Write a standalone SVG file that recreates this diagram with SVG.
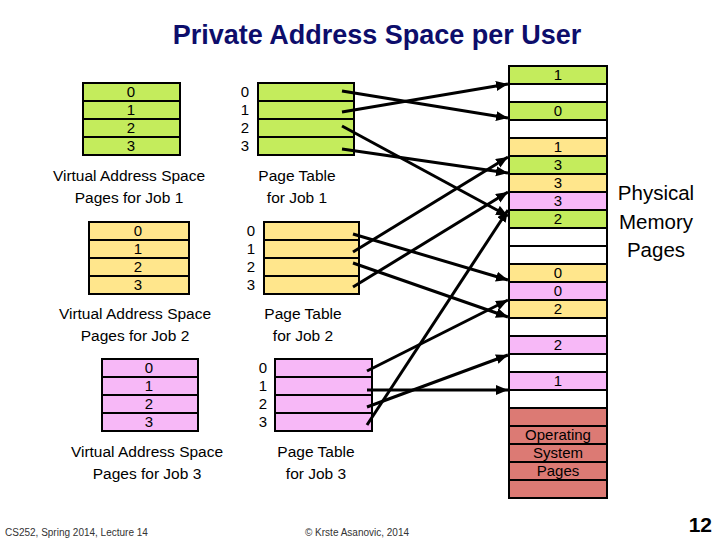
<svg xmlns="http://www.w3.org/2000/svg" width="720" height="540" viewBox="0 0 720 540">
<style>
text{font-family:"Liberation Sans",Arial,sans-serif;fill:#000}
.g{fill:#C4EC5C;stroke:#000;stroke-width:2}
.y{fill:#FFE68C;stroke:#000;stroke-width:2}
.p{fill:#F7B8F7;stroke:#000;stroke-width:2}
.r{fill:#DC7A74;stroke:#000;stroke-width:2}
.w{fill:#fff;stroke:#000;stroke-width:2}
.d{font-size:15px;text-anchor:middle}
.c{font-size:15.5px;text-anchor:middle}
.con line{stroke:#000;stroke-width:3;marker-end:url(#ah)}
</style>
<defs>
<marker id="ah" markerUnits="userSpaceOnUse" markerWidth="13" markerHeight="11" refX="12" refY="5" orient="auto" viewBox="0 0 13 11">
<path d="M0,0 L12,5 L0,10 z" fill="#000"/>
</marker>
</defs>
<rect width="720" height="540" fill="#fff"/>
<text x="377" y="44" font-size="27" font-weight="bold" text-anchor="middle" style="fill:#0D0D6B">Private Address Space per User</text>

<g id="vas1">
<rect class="g" x="83" y="83" width="97" height="18"/><rect class="g" x="83" y="101" width="97" height="18"/><rect class="g" x="83" y="119" width="97" height="18"/><rect class="g" x="83" y="137" width="97" height="18"/>
<text class="d" x="131" y="97">0</text><text class="d" x="131" y="115">1</text><text class="d" x="131" y="133">2</text><text class="d" x="131" y="151">3</text>
<text class="c" x="129" y="181">Virtual Address Space</text><text class="c" x="129" y="203">Pages for Job 1</text>
</g>
<g id="pt1">
<rect class="g" x="258" y="83" width="96" height="18"/><rect class="g" x="258" y="101" width="96" height="18"/><rect class="g" x="258" y="119" width="96" height="18"/><rect class="g" x="258" y="137" width="96" height="18"/>
<text class="d" x="245" y="97">0</text><text class="d" x="245" y="115">1</text><text class="d" x="245" y="133">2</text><text class="d" x="245" y="151">3</text>
<text class="c" x="297" y="181">Page Table</text><text class="c" x="297" y="203">for Job 1</text>
</g>

<g id="vas2">
<rect class="y" x="89" y="222" width="100" height="18"/><rect class="y" x="89" y="240" width="100" height="18"/><rect class="y" x="89" y="258" width="100" height="18"/><rect class="y" x="89" y="276" width="100" height="18"/>
<text class="d" x="138" y="236">0</text><text class="d" x="138" y="254">1</text><text class="d" x="138" y="272">2</text><text class="d" x="138" y="290">3</text>
<text class="c" x="135" y="319">Virtual Address Space</text><text class="c" x="135" y="341">Pages for Job 2</text>
</g>
<g id="pt2">
<rect class="y" x="264" y="222" width="95" height="18"/><rect class="y" x="264" y="240" width="95" height="18"/><rect class="y" x="264" y="258" width="95" height="18"/><rect class="y" x="264" y="276" width="95" height="18"/>
<text class="d" x="251" y="236">0</text><text class="d" x="251" y="254">1</text><text class="d" x="251" y="272">2</text><text class="d" x="251" y="290">3</text>
<text class="c" x="303" y="319">Page Table</text><text class="c" x="303" y="341">for Job 2</text>
</g>

<g id="vas3">
<rect class="p" x="102" y="359" width="96" height="18"/><rect class="p" x="102" y="377" width="96" height="18"/><rect class="p" x="102" y="395" width="96" height="18"/><rect class="p" x="102" y="413" width="96" height="18"/>
<text class="d" x="149" y="373">0</text><text class="d" x="149" y="391">1</text><text class="d" x="149" y="409">2</text><text class="d" x="149" y="427">3</text>
<text class="c" x="147" y="457">Virtual Address Space</text><text class="c" x="147" y="479">Pages for Job 3</text>
</g>
<g id="pt3">
<rect class="p" x="275" y="359" width="97" height="18"/><rect class="p" x="275" y="377" width="97" height="18"/><rect class="p" x="275" y="395" width="97" height="18"/><rect class="p" x="275" y="413" width="97" height="18"/>
<text class="d" x="263" y="373">0</text><text class="d" x="263" y="391">1</text><text class="d" x="263" y="409">2</text><text class="d" x="263" y="427">3</text>
<text class="c" x="316" y="457">Page Table</text><text class="c" x="316" y="479">for Job 3</text>
</g>

<g id="physmem">
<rect class="g" x="509" y="66" width="98" height="18"/>
<rect class="w" x="509" y="84" width="98" height="18"/>
<rect class="g" x="509" y="102" width="98" height="18"/>
<rect class="w" x="509" y="120" width="98" height="18"/>
<rect class="y" x="509" y="138" width="98" height="18"/>
<rect class="g" x="509" y="156" width="98" height="18"/>
<rect class="y" x="509" y="174" width="98" height="18"/>
<rect class="p" x="509" y="192" width="98" height="18"/>
<rect class="g" x="509" y="210" width="98" height="18"/>
<rect class="w" x="509" y="228" width="98" height="18"/>
<rect class="w" x="509" y="246" width="98" height="18"/>
<rect class="y" x="509" y="264" width="98" height="18"/>
<rect class="p" x="509" y="282" width="98" height="18"/>
<rect class="y" x="509" y="300" width="98" height="18"/>
<rect class="w" x="509" y="318" width="98" height="18"/>
<rect class="p" x="509" y="336" width="98" height="18"/>
<rect class="w" x="509" y="354" width="98" height="18"/>
<rect class="p" x="509" y="372" width="98" height="18"/>
<rect class="w" x="509" y="390" width="98" height="18"/>
<rect class="r" x="509" y="408" width="98" height="18"/>
<rect class="r" x="509" y="426" width="98" height="18"/>
<rect class="r" x="509" y="444" width="98" height="18"/>
<rect class="r" x="509" y="462" width="98" height="18"/>
<rect class="r" x="509" y="480" width="98" height="18"/>
<text class="d" x="558" y="80">1</text>
<text class="d" x="558" y="116">0</text>
<text class="d" x="558" y="152">1</text>
<text class="d" x="558" y="170">3</text>
<text class="d" x="558" y="188">3</text>
<text class="d" x="558" y="206">3</text>
<text class="d" x="558" y="224">2</text>
<text class="d" x="558" y="278">0</text>
<text class="d" x="558" y="296">0</text>
<text class="d" x="558" y="314">2</text>
<text class="d" x="558" y="350">2</text>
<text class="d" x="558" y="386">1</text>
<text class="d" x="558" y="440">Operating</text>
<text class="d" x="558" y="458">System</text>
<text class="d" x="558" y="476">Pages</text>
<text x="656" y="200" font-size="20.5" text-anchor="middle">Physical</text>
<text x="656" y="229" font-size="20.5" text-anchor="middle">Memory</text>
<text x="656" y="257" font-size="20.5" text-anchor="middle">Pages</text>
</g>

<g id="connectors" class="con">
<line x1="342" y1="91" x2="508" y2="118"/>
<line x1="342" y1="112" x2="508" y2="84"/>
<line x1="342" y1="126" x2="508" y2="216"/>
<line x1="342" y1="149" x2="508" y2="173"/>
<line x1="353" y1="234" x2="508" y2="280"/>
<line x1="353" y1="252" x2="508" y2="157"/>
<line x1="353" y1="263" x2="508" y2="317"/>
<line x1="353" y1="287" x2="508" y2="192"/>
<line x1="367" y1="371" x2="508" y2="300"/>
<line x1="367" y1="390" x2="508" y2="390"/>
<line x1="367" y1="407" x2="508" y2="355"/>
<line x1="367" y1="425" x2="508" y2="210"/>
</g>

<text x="5" y="536" font-size="10" style="fill:#333">CS252, Spring 2014, Lecture 14</text>
<text x="357" y="536" font-size="10" text-anchor="middle" style="fill:#333">© Krste Asanovic, 2014</text>
<text x="712" y="532" font-size="21" font-weight="bold" text-anchor="end">12</text>
</svg>
